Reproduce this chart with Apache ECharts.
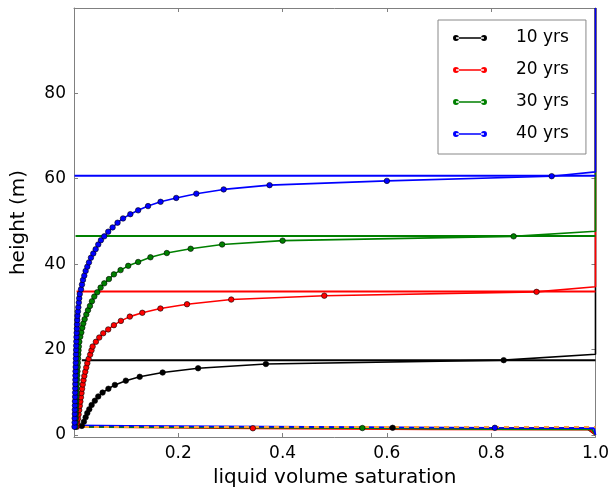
<!DOCTYPE html>
<html><head><meta charset="utf-8">
<script src="https://cdn.jsdelivr.net/npm/echarts@6/dist/echarts.min.js"></script>
<style>html,body{margin:0;padding:0;background:#fff}#c{width:612px;height:494px}</style>
</head><body><div id="c"></div>
<script>
const seriesNames = ['10 yrs', '20 yrs', '30 yrs', '40 yrs'];
const xTickValues = [0.2, 0.4, 0.6, 0.8, 1.0];
const yTickValues = [0, 20, 40, 60, 80];

// saturation profiles [saturation, height]
const profile10 = [[0.0150,2.1],[0.0190,3.1],[0.0223,4.1],[0.0255,5.1],[0.0293,6.0],[0.0338,7.0],[0.0400,8.0],[0.0465,9.0],[0.0548,9.9],[0.0660,10.8],[0.0784,11.7],[0.0994,12.7],[0.1260,13.6],[0.1700,14.6],[0.2380,15.6],[0.3680,16.6],[0.8240,17.5]];
const profile20 = [[0.0055,1.9],[0.0064,2.8],[0.0076,3.8],[0.0088,4.8],[0.0100,5.8],[0.0111,6.8],[0.0122,7.8],[0.0133,8.8],[0.0144,9.8],[0.0155,10.8],[0.0167,11.8],[0.0182,12.8],[0.0198,13.8],[0.0216,14.8],[0.0235,15.8],[0.0255,16.8],[0.0280,17.8],[0.0310,18.8],[0.0335,19.8],[0.0357,20.7],[0.0420,21.8],[0.0484,22.8],[0.0560,23.8],[0.0656,24.7],[0.0765,25.7],[0.0899,26.7],[0.1070,27.7],[0.1310,28.6],[0.1657,29.6],[0.2167,30.6],[0.3015,31.7],[0.4800,32.6],[0.8870,33.5]];
const profile30 = [[0.0030,1.9],[0.0032,2.9],[0.0034,3.9],[0.0036,4.9],[0.0039,5.9],[0.0041,6.9],[0.0044,7.9],[0.0047,8.9],[0.0050,9.9],[0.0053,10.9],[0.0056,11.9],[0.0059,12.9],[0.0062,13.9],[0.0066,14.9],[0.0070,15.9],[0.0074,16.9],[0.0078,17.9],[0.0082,18.9],[0.0086,19.8],[0.0092,20.7],[0.0102,21.8],[0.0120,23.0],[0.0140,24.0],[0.0159,25.1],[0.0178,26.1],[0.0204,27.1],[0.0236,28.2],[0.0268,29.2],[0.0306,30.2],[0.0344,31.3],[0.0389,32.4],[0.0446,33.4],[0.0510,34.5],[0.0580,35.5],[0.0670,36.5],[0.0765,37.6],[0.0893,38.6],[0.1040,39.6],[0.1230,40.5],[0.1466,41.6],[0.1780,42.6],[0.2237,43.6],[0.2840,44.6],[0.4000,45.5],[0.8430,46.5]];
const profile40 = [[0.0010,1.9],[0.0012,2.9],[0.0013,3.9],[0.0015,4.9],[0.0016,5.9],[0.0018,6.9],[0.0019,7.9],[0.0021,8.9],[0.0022,9.9],[0.0024,10.9],[0.0025,11.9],[0.0027,12.9],[0.0028,13.9],[0.0030,14.9],[0.0032,15.9],[0.0034,16.9],[0.0036,17.9],[0.0038,18.9],[0.0040,19.9],[0.0042,20.9],[0.0045,21.9],[0.0048,22.9],[0.0051,23.9],[0.0055,24.9],[0.0059,25.9],[0.0063,26.9],[0.0067,27.9],[0.0075,28.9],[0.0083,29.9],[0.0092,31.0],[0.0100,32.0],[0.0110,33.0],[0.0134,34.1],[0.0153,35.2],[0.0172,36.3],[0.0197,37.3],[0.0223,38.4],[0.0255,39.4],[0.0287,40.4],[0.0325,41.5],[0.0370,42.5],[0.0415,43.5],[0.0465,44.6],[0.0516,45.6],[0.0580,46.5],[0.0656,47.6],[0.0740,48.6],[0.0835,49.7],[0.0940,50.7],[0.1080,51.7],[0.1230,52.6],[0.1420,53.6],[0.1660,54.6],[0.1960,55.5],[0.2346,56.5],[0.2870,57.5],[0.3750,58.5],[0.6000,59.5],[0.9160,60.6]];

// profile tails along the right edge (no markers)
const tail10 = [[1.0,18.9],[1.0,100]];
const tail20 = [[1.0,34.7],[1.0,100]];
const tail30 = [[1.0,47.7],[1.0,100]];
const tail40 = [[1.0,61.6],[1.0,100]];

// front heights
const front10 = [[0.015,17.5],[1.0,17.5]];
const front20 = [[0.005,33.6],[1.0,33.6]];
const front30 = [[0.003,46.6],[1.0,46.6]];
const front40 = [[0.001,60.7],[1.0,60.7]];

// bottom lines
const bottom10 = [[0.015,2.0],[0.30,1.8],[0.611,1.65],[0.983,1.55],[1.0,0]];
const bottom20 = [[0.0055,1.9],[0.343,1.55],[0.684,1.3],[0.988,1.25],[1.0,0]];
const bottom30 = [[0.003,1.9],[0.553,1.6],[0.80,1.35],[0.993,1.3],[1.0,0]];
const bottom40 = [[0.001,2.2],[0.10,2.1],[0.807,1.65],[0.983,1.6],[0.997,1.55],[1.0,0]];
const bottomMark10 = [0.611,1.65];
const bottomMark20 = [0.343,1.55];
const bottomMark30 = [0.553,1.6];
const bottomMark40 = [0.807,1.65];

// dashed reference line
const refLine = [[0,1.85],[1,1.85]];

const palette = ['#000000', '#ff0000', '#008000', '#0000ff'];
const FONT = 'DejaVu Sans';

const groups = [
  {profile: profile10, tail: tail10, front: front10, bottom: bottom10, mark: bottomMark10},
  {profile: profile20, tail: tail20, front: front20, bottom: bottom20, mark: bottomMark20},
  {profile: profile30, tail: tail30, front: front30, bottom: bottom30, mark: bottomMark30},
  {profile: profile40, tail: tail40, front: front40, bottom: bottom40, mark: bottomMark40}
];

const series = [];
groups.forEach((g, i) => {
  const c = palette[i];
  const name = seriesNames[i];
  const itemStyle = {color: c, borderColor: '#000', borderWidth: 0.6};
  series.push({
    type: 'line', name: name, data: g.front, symbol: 'none', clip: false,
    lineStyle: {color: c, width: 2}, itemStyle: itemStyle, silent: true
  });
  series.push({
    type: 'line', name: name, clip: false,
    data: g.bottom.map(p => (p[0] === g.mark[0] && p[1] === g.mark[1]) ? {value: p} : {value: p, symbol: 'none'}),
    symbol: 'circle', symbolSize: 5.5, showAllSymbol: true,
    lineStyle: {color: c, width: 1.8}, itemStyle: itemStyle, silent: true
  });
  series.push({
    type: 'line', name: name, clip: false,
    data: g.profile.map(p => ({value: p})).concat(g.tail.map(p => ({value: p, symbol: 'none'}))),
    symbol: 'circle', symbolSize: 5.5, showAllSymbol: true,
    lineStyle: {color: c, width: 1.6}, itemStyle: itemStyle, silent: true
  });
});
series.push({
  type: 'line', name: 'ref', data: refLine, symbol: 'none', clip: false,
  lineStyle: {color: '#ffa033', width: 2, type: [5, 5]}, silent: true
});

const legendIcon = 'path://M0,3A3,3 0 1,0 6,3A3,3 0 1,0 0,3Z M3,2.25L31,2.25L31,3.75L3,3.75Z M28,3A3,3 0 1,0 34,3A3,3 0 1,0 28,3Z';

const axisLineStyle = {color: '#808080', width: 1};
const chart = echarts.init(document.getElementById('c'), null, {renderer: 'canvas'});
chart.setOption({
  animation: false,
  backgroundColor: '#fff',
  textStyle: {fontFamily: FONT},
  grid: {left: 74, right: 15, top: 8, bottom: 57, containLabel: false},
  xAxis: [{
    type: 'value', min: 0, max: 1, position: 'bottom',
    axisLine: {show: true, onZero: false, lineStyle: axisLineStyle},
    axisTick: {show: true, inside: true, length: 4, customValues: xTickValues, lineStyle: axisLineStyle},
    axisLabel: {customValues: xTickValues, formatter: v => v.toFixed(1), fontSize: 17, color: '#000', margin: 8, fontFamily: FONT, showMaxLabel: true},
    splitLine: {show: false},
    name: 'liquid volume saturation', nameLocation: 'middle', nameGap: 31,
    nameTextStyle: {fontSize: 20, color: '#000', fontFamily: FONT}
  }, {
    type: 'value', min: 0, max: 1, position: 'top',
    axisLine: {show: true, onZero: false, lineStyle: axisLineStyle},
    axisTick: {show: true, inside: true, length: 4, customValues: xTickValues, lineStyle: axisLineStyle},
    axisLabel: {show: false}, splitLine: {show: false}
  }],
  yAxis: [{
    type: 'value', min: -0.5, max: 100, position: 'left',
    axisLine: {show: true, onZero: false, lineStyle: axisLineStyle},
    axisTick: {show: true, inside: true, length: 4, customValues: yTickValues, lineStyle: axisLineStyle},
    axisLabel: {customValues: yTickValues, formatter: v => String(v), fontSize: 17, color: '#000', margin: 8, fontFamily: FONT},
    splitLine: {show: false},
    name: 'height (m)', nameLocation: 'middle', nameGap: 45,
    nameTextStyle: {fontSize: 20, color: '#000', fontFamily: FONT}
  }, {
    type: 'value', min: -0.5, max: 100, position: 'right',
    axisLine: {show: true, onZero: false, lineStyle: axisLineStyle},
    axisTick: {show: true, inside: true, length: 4, customValues: yTickValues, lineStyle: axisLineStyle},
    axisLabel: {show: false}, splitLine: {show: false}
  }],
  legend: {
    show: true, orient: 'vertical', left: 438, top: 20,
    padding: [8, 17, 10, 15], itemGap: 12, itemWidth: 34, itemHeight: 6,
    backgroundColor: '#fff', borderColor: '#888', borderWidth: 1, borderRadius: 0,
    align: 'left', selectedMode: false,
    itemStyle: {borderWidth: 0},
    textStyle: {fontSize: 17, color: '#000', fontFamily: FONT, padding: [0, 0, 0, 24], lineHeight: 20},
    data: seriesNames.map(n => ({name: n, icon: legendIcon}))
  },
  series: series
});
</script>
</body></html>
